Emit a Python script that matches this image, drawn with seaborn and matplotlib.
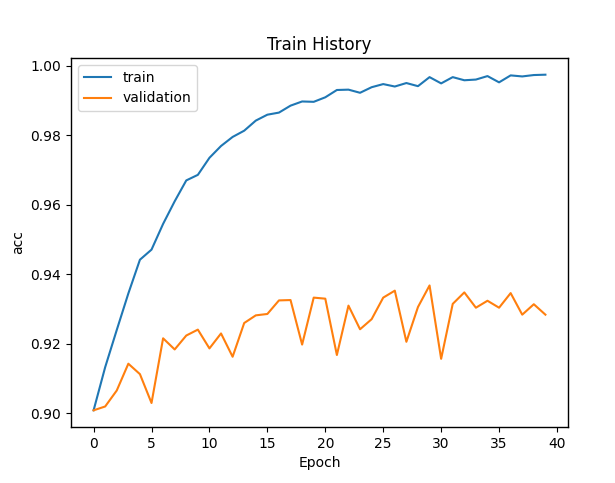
import matplotlib
matplotlib.use("Agg")
import matplotlib.pyplot as plt
import seaborn as sns
import pandas as pd
import numpy as np

epochs = list(range(40))
train_acc = [0.9009, 0.9133, 0.9240, 0.9345, 0.9442, 0.9471, 0.9545, 0.9610, 0.9670, 0.9686,
             0.9735, 0.9769, 0.9795, 0.9813, 0.9842, 0.9859, 0.9865, 0.9885, 0.9897, 0.9896,
             0.9909, 0.9930, 0.9931, 0.9922, 0.9938, 0.9947, 0.9940, 0.9950, 0.9941, 0.9967,
             0.9949, 0.9967, 0.9958, 0.9960, 0.9970, 0.9952, 0.9972, 0.9969, 0.9973, 0.9974]
val_acc = [0.9009, 0.9020, 0.9066, 0.9143, 0.9113, 0.9030, 0.9216, 0.9184, 0.9224, 0.9241,
           0.9187, 0.9230, 0.9163, 0.9260, 0.9282, 0.9286, 0.9325, 0.9326, 0.9198, 0.9333,
           0.9330, 0.9168, 0.9310, 0.9242, 0.9271, 0.9333, 0.9353, 0.9206, 0.9306, 0.9368,
           0.9157, 0.9315, 0.9348, 0.9304, 0.9324, 0.9304, 0.9346, 0.9284, 0.9314, 0.9284]
series_names = ["train", "validation"]

df = pd.DataFrame({
    "Epoch": epochs * 2,
    "acc": train_acc + val_acc,
    "series": [series_names[0]] * len(epochs) + [series_names[1]] * len(epochs),
})

plt.rcParams["font.family"] = ["DejaVu Sans"]
fig = plt.figure(figsize=(6.15, 4.83), dpi=100)
ax = fig.add_axes([71 / 615, 1 - 427 / 483, (568 - 71) / 615, (427 - 58) / 483])

sns.lineplot(data=df, x="Epoch", y="acc", hue="series",
             palette=["#1f77b4", "#ff7f0e"], linewidth=1.5, ax=ax)

ax.set_title("Train History", fontsize=12)
ax.set_xlabel("Epoch", fontsize=10)
ax.set_ylabel("acc", fontsize=10)
ax.set_xticks([0, 5, 10, 15, 20, 25, 30, 35, 40])
ax.set_yticks([0.90, 0.92, 0.94, 0.96, 0.98, 1.00])
ax.set_yticklabels(["0.90", "0.92", "0.94", "0.96", "0.98", "1.00"])
ax.set_xlim(-1.95, 40.95)
ax.set_ylim(0.8961, 1.0022)
for s in ax.spines.values():
    s.set_color("black")
    s.set_linewidth(1.0)
ax.tick_params(colors="black", labelsize=10)
leg = ax.legend(loc="upper left", fontsize=10)
leg.set_title(None)

fig.savefig("out.png", dpi=100, facecolor="white")
